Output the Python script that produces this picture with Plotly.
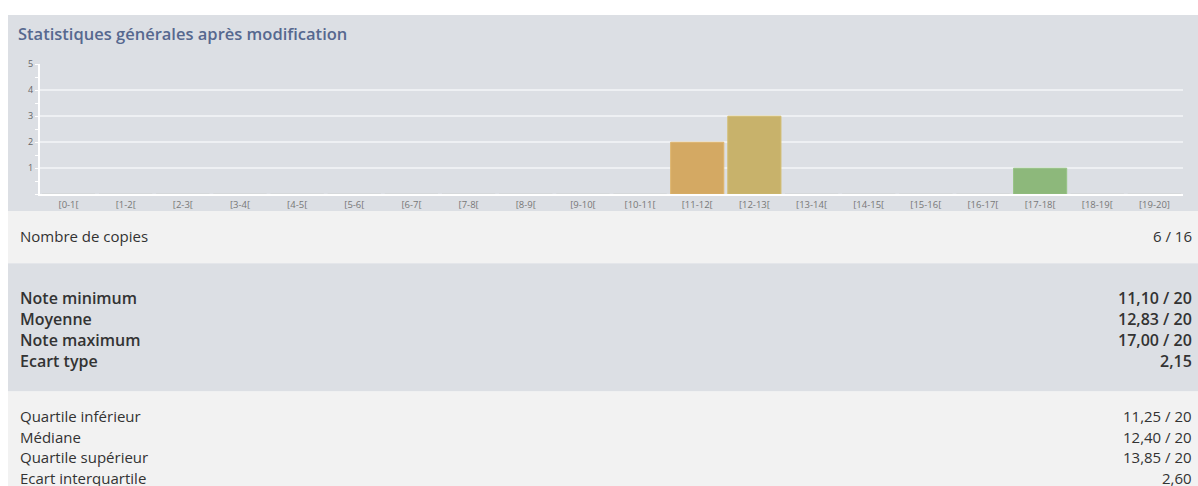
import plotly.graph_objects as go

# ---- data ----
categories = ["[0-1[", "[1-2[", "[2-3[", "[3-4[", "[4-5[", "[5-6[", "[6-7[", "[7-8[",
              "[8-9[", "[9-10[", "[10-11[", "[11-12[", "[12-13[", "[13-14[", "[14-15[",
              "[15-16[", "[16-17[", "[17-18[", "[18-19[", "[19-20]"]
counts = [0, 0, 0, 0, 0, 0, 0, 0, 0, 0, 0, 2, 3, 0, 0, 0, 0, 1, 0, 0]
y_ticks = [1, 2, 3, 4, 5]

title_text = "Statistiques générales après modification"
copies_label = "Nombre de copies"
copies_value = "6 / 16"
main_labels = ["Note minimum", "Moyenne", "Note maximum", "Ecart type"]
main_values = ["11,10 / 20", "12,83 / 20", "17,00 / 20", "2,15"]
quart_labels = ["Quartile inférieur", "Médiane", "Quartile supérieur", "Ecart interquartile"]
quart_values = ["11,25 / 20", "12,40 / 20", "13,85 / 20", "2,60"]

# ---- styles ----
W, H = 1198, 486
bar_colors = {"[11-12[": "#d4a963", "[12-13[": "#c8b26b", "[17-18[": "#8db87b"}
bar_lines = {"[11-12[": "#dfb56c", "[12-13[": "#d3bd70", "[17-18[": "#97c385"}
GREY = "#dcdfe4"
LIGHT = "#f2f2f2"
FONT = "Open Sans"

def px(x):
    return x / W

def py(y):
    return 1 - y / H

fig = go.Figure()
fig.add_trace(go.Bar(
    x=categories, y=counts,
    marker=dict(color=[bar_colors.get(c, "#cccccc") for c in categories],
                line=dict(color=[bar_lines.get(c, "#cccccc") for c in categories], width=1)),
    hoverinfo="x+y",
))

shapes = [
    dict(type="rect", xref="paper", yref="paper", x0=px(8), x1=1, y0=py(207), y1=py(8),
         fillcolor=GREY, line=dict(width=0), layer="below"),
    dict(type="rect", xref="paper", yref="paper", x0=px(8), x1=1, y0=py(260), y1=py(207),
         fillcolor=LIGHT, line=dict(width=0), layer="below"),
    dict(type="rect", xref="paper", yref="paper", x0=px(8), x1=1, y0=py(390), y1=py(260),
         fillcolor=GREY, line=dict(width=0), layer="below"),
    dict(type="rect", xref="paper", yref="paper", x0=px(8), x1=1, y0=0, y1=py(390),
         fillcolor=LIGHT, line=dict(width=0), layer="below"),
]

annotations = [
    dict(text=title_text, xref="paper", yref="paper", x=px(16), y=py(27),
         xanchor="left", yanchor="middle", showarrow=False,
         font=dict(family=FONT, size=16.5, color="#56688f", weight=600)),
    dict(text=copies_label, xref="paper", yref="paper", x=px(18), y=py(232),
         xanchor="left", yanchor="middle", showarrow=False,
         font=dict(family=FONT, size=15, color="#333333")),
    dict(text=copies_value, xref="paper", yref="paper", x=px(1194), y=py(232),
         xanchor="right", yanchor="middle", showarrow=False,
         font=dict(family=FONT, size=15, color="#333333")),
]
main_y = [295, 316.5, 338, 359.5]
for lab, val, yy in zip(main_labels, main_values, main_y):
    annotations.append(dict(text=lab, xref="paper", yref="paper", x=px(18), y=py(yy),
                            xanchor="left", yanchor="middle", showarrow=False,
                            font=dict(family=FONT, size=16, color="#333333", weight=600)))
    annotations.append(dict(text=val, xref="paper", yref="paper", x=px(1194), y=py(yy),
                            xanchor="right", yanchor="middle", showarrow=False,
                            font=dict(family=FONT, size=16, color="#333333", weight=600)))
quart_y = [415, 436, 457, 478]
for lab, val, yy in zip(quart_labels, quart_values, quart_y):
    annotations.append(dict(text=lab, xref="paper", yref="paper", x=px(18), y=py(yy),
                            xanchor="left", yanchor="middle", showarrow=False,
                            font=dict(family=FONT, size=15, color="#333333")))
    annotations.append(dict(text=val, xref="paper", yref="paper", x=px(1194), y=py(yy),
                            xanchor="right", yanchor="middle", showarrow=False,
                            font=dict(family=FONT, size=15, color="#333333")))

fig.update_layout(
    width=W, height=H,
    margin=dict(l=0, r=0, t=0, b=0),
    paper_bgcolor="white",
    plot_bgcolor="rgba(0,0,0,0)",
    showlegend=False,
    bargap=0.07,
    shapes=shapes,
    annotations=annotations,
    xaxis=dict(domain=[px(40), px(1183)], type="category", categoryorder="array",
               categoryarray=categories, showgrid=False, showline=True, linecolor="white",
               linewidth=2, ticks="", tickfont=dict(family=FONT, size=9.5, color="#777777"),
               fixedrange=True),
    yaxis=dict(domain=[py(190), py(58)], range=[0, 5], tickvals=y_ticks,
               showgrid=True, gridcolor="#eef0f3", gridwidth=1.5,
               showline=True, linecolor="white", linewidth=2, zeroline=False,
               ticks="outside", ticklen=3, tickcolor="white",
               minor=dict(dtick=0.5, ticks="outside", ticklen=3, tickcolor="white", showgrid=False),
               tickfont=dict(family=FONT, size=9, color="#666666"), fixedrange=True),
)

post = ("document.body.style.margin='0';document.body.style.overflow='hidden';"
        "var gd=document.getElementById('{plot_id}');"
        "gd.style.position='absolute';gd.style.left='0px';gd.style.top='0px';")

fig.write_html("out.html", config={"displayModeBar": False}, post_script=post)
